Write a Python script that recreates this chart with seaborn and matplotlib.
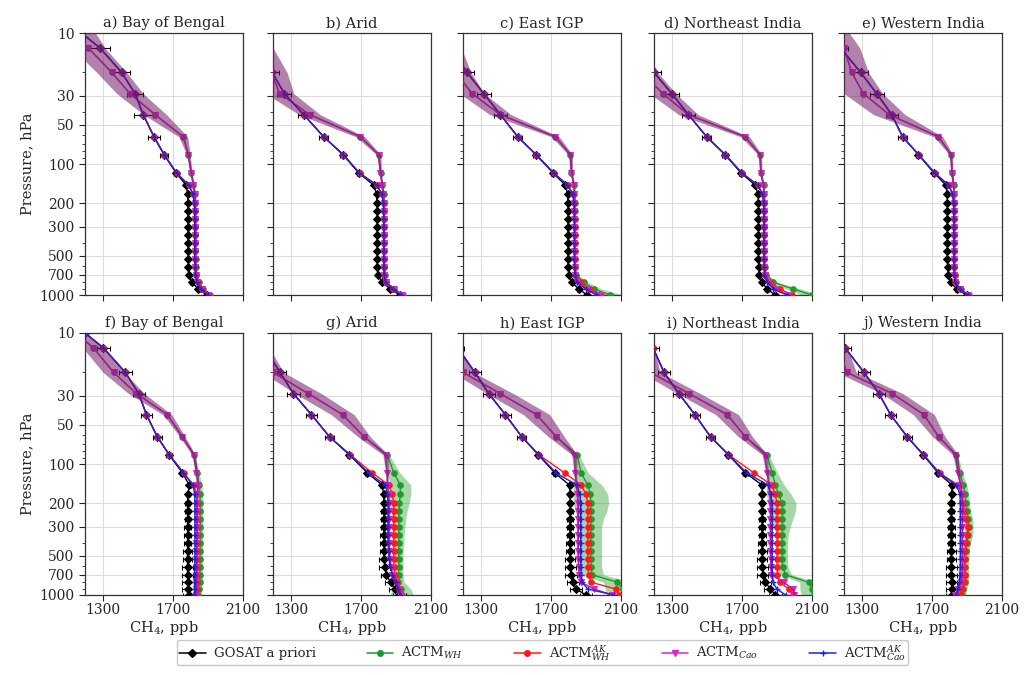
import matplotlib
matplotlib.use("Agg")
import matplotlib.pyplot as plt
from matplotlib.lines import Line2D
from matplotlib.ticker import FixedLocator, FixedFormatter, LogLocator, NullFormatter
import numpy as np
import pandas as pd
import seaborn as sns

PANEL_TITLES = ["a) Bay of Bengal", "b) Arid", "c) East IGP", "d) Northeast India", "e) Western India",
                "f) Bay of Bengal", "g) Arid", "h) East IGP", "i) Northeast India", "j) Western India"]

PRESSURE = [10, 13, 20, 29, 42, 62, 85, 117, 145, 170, 200, 230, 265, 305, 350, 400, 460, 530, 610, 700, 800, 900, 1000]

APRIORI = [
    [1180,1285,1409,1485,1532,1593,1650,1719,1776,1785,1786,1786,1787,1787,1787,1787,1787,1788,1788,1790,1808,1846,1893],
    [1080,1120,1195,1265,1375,1489,1599,1688,1774,1790,1792,1793,1793,1793,1793,1793,1793,1793,1794,1796,1821,1869,1922],
    [1080,1130,1223,1318,1413,1512,1616,1713,1783,1796,1798,1798,1798,1798,1798,1798,1798,1798,1799,1802,1821,1859,1907],
    [1100,1150,1200,1301,1396,1500,1605,1696,1776,1792,1795,1795,1795,1795,1795,1795,1795,1795,1796,1800,1815,1845,1890],
    [1120,1180,1295,1386,1472,1534,1624,1713,1781,1787,1789,1789,1789,1789,1789,1789,1789,1789,1790,1793,1808,1842,1899],
    [1200,1305,1430,1506,1550,1612,1679,1755,1794,1786,1784,1784,1784,1784,1784,1784,1784,1784,1784,1784,1786,1788,1790],
    [1100,1150,1241,1316,1419,1522,1635,1738,1822,1830,1832,1832,1832,1832,1832,1832,1832,1833,1836,1845,1870,1895,1920],
    [1120,1170,1268,1347,1441,1535,1629,1723,1807,1810,1810,1810,1810,1810,1810,1810,1810,1810,1812,1815,1825,1845,1900],
    [1150,1195,1257,1342,1433,1522,1623,1721,1816,1816,1816,1816,1816,1816,1816,1816,1816,1816,1817,1820,1835,1863,1892],
    [1150,1206,1314,1399,1465,1560,1651,1736,1816,1813,1812,1812,1812,1812,1812,1812,1812,1812,1812,1812,1813,1814,1816],
]

ACTM_WH = [
    [1150,1219,1352,1456,1599,1760,1789,1805,1818,1826,1828,1829,1829,1829,1829,1829,1829,1830,1831,1835,1847,1875,1912],
    [1040,1100,1190,1238,1409,1698,1802,1813,1822,1830,1832,1832,1832,1832,1832,1832,1832,1833,1834,1837,1846,1892,1940],
    [1050,1090,1160,1251,1413,1726,1812,1818,1832,1835,1836,1836,1836,1836,1836,1836,1836,1836,1838,1845,1888,1945,2040],
    [1000,1050,1130,1250,1396,1719,1804,1809,1824,1827,1828,1828,1828,1828,1828,1828,1828,1828,1830,1840,1880,1994,2100],
    [1150,1200,1244,1310,1458,1738,1810,1815,1824,1827,1828,1828,1828,1828,1828,1828,1828,1828,1829,1831,1836,1864,1912],
    [1150,1248,1363,1493,1669,1755,1822,1840,1850,1855,1856,1857,1857,1857,1857,1856,1856,1855,1855,1854,1853,1850,1845],
    [1080,1130,1200,1401,1597,1719,1851,1888,1926,1925,1920,1918,1916,1916,1916,1916,1916,1916,1916,1915,1912,1930,1935],
    [1080,1130,1200,1412,1619,1732,1850,1873,1911,1925,1929,1929,1929,1929,1929,1929,1929,1929,1930,1935,2080,2110,2120],
    [1100,1150,1180,1399,1617,1721,1844,1873,1892,1910,1930,1930,1930,1930,1930,1930,1930,1930,1932,1949,2081,2100,2110],
    [1100,1170,1215,1475,1655,1740,1840,1860,1880,1890,1895,1900,1908,1911,1908,1900,1895,1892,1890,1892,1890,1880,1873],
]

ACTM_WH_AK = [
    [1180,1285,1409,1485,1532,1593,1652,1722,1792,1817,1824,1826,1827,1827,1827,1827,1827,1827,1828,1831,1842,1866,1906],
    [1080,1120,1195,1265,1375,1489,1601,1693,1792,1822,1830,1831,1832,1832,1832,1832,1832,1832,1833,1835,1844,1886,1935],
    [1080,1130,1223,1318,1413,1512,1618,1717,1797,1827,1834,1835,1836,1836,1836,1836,1836,1836,1837,1840,1870,1925,1985],
    [1100,1150,1200,1301,1396,1500,1607,1701,1792,1820,1826,1827,1828,1828,1828,1828,1828,1828,1829,1835,1860,1920,1985],
    [1120,1180,1295,1386,1472,1534,1626,1717,1797,1820,1826,1827,1828,1828,1828,1828,1828,1828,1829,1830,1835,1861,1909],
    [1200,1305,1430,1506,1550,1612,1681,1762,1820,1835,1838,1839,1839,1839,1839,1839,1839,1839,1838,1838,1837,1836,1835],
    [1100,1150,1241,1316,1419,1522,1640,1766,1860,1880,1888,1888,1888,1888,1888,1888,1888,1888,1890,1895,1905,1920,1930],
    [1120,1170,1268,1347,1441,1535,1632,1779,1873,1900,1911,1911,1911,1911,1911,1911,1911,1911,1912,1915,1930,2070,2090],
    [1150,1195,1257,1342,1433,1522,1625,1769,1873,1890,1901,1901,1901,1901,1901,1901,1901,1901,1901,1903,1915,1968,1990],
    [1150,1206,1314,1399,1465,1560,1653,1745,1850,1870,1880,1885,1895,1905,1900,1895,1890,1888,1886,1888,1885,1870,1860],
]

ACTM_CAO = [
    [1150,1219,1352,1456,1599,1760,1789,1804,1817,1825,1827,1828,1828,1828,1828,1828,1828,1828,1829,1832,1840,1865,1903],
    [1040,1100,1190,1238,1409,1698,1802,1812,1821,1829,1831,1831,1831,1831,1831,1831,1831,1832,1833,1835,1842,1888,1935],
    [1050,1090,1160,1251,1413,1726,1812,1817,1831,1834,1835,1835,1835,1835,1835,1835,1835,1835,1836,1838,1850,1907,1983],
    [1000,1050,1130,1250,1396,1719,1804,1808,1823,1826,1827,1827,1827,1827,1827,1827,1827,1827,1828,1830,1852,1890,1956],
    [1150,1200,1244,1310,1458,1738,1810,1814,1823,1826,1827,1827,1827,1827,1827,1827,1827,1827,1828,1829,1833,1861,1909],
    [1150,1248,1363,1493,1669,1755,1819,1835,1842,1838,1836,1836,1836,1836,1836,1835,1835,1835,1834,1834,1833,1833,1833],
    [1080,1130,1200,1401,1597,1719,1841,1850,1851,1858,1860,1860,1860,1860,1860,1860,1862,1865,1870,1880,1900,1915,1926],
    [1080,1130,1200,1412,1619,1732,1835,1840,1845,1852,1854,1854,1854,1854,1854,1854,1855,1856,1858,1862,1873,1948,2050],
    [1100,1150,1180,1399,1617,1721,1831,1845,1854,1860,1863,1863,1863,1863,1863,1863,1863,1864,1866,1868,1940,1990,2000],
    [1100,1170,1215,1475,1655,1740,1835,1850,1863,1870,1873,1873,1873,1873,1873,1873,1873,1873,1872,1870,1866,1850,1835],
]

ACTM_CAO_AK = [
    [1180,1285,1409,1485,1532,1593,1652,1722,1790,1815,1822,1824,1825,1825,1825,1825,1825,1825,1826,1828,1838,1860,1900],
    [1080,1120,1195,1265,1375,1489,1601,1692,1790,1820,1828,1829,1830,1830,1830,1830,1830,1830,1831,1833,1840,1882,1930],
    [1080,1130,1223,1318,1413,1512,1618,1716,1795,1825,1832,1833,1834,1834,1834,1834,1834,1834,1835,1837,1848,1900,1960],
    [1100,1150,1200,1301,1396,1500,1607,1700,1790,1818,1824,1825,1826,1826,1826,1826,1826,1826,1827,1829,1845,1880,1960],
    [1120,1180,1295,1386,1472,1534,1626,1716,1795,1818,1824,1825,1826,1826,1826,1826,1826,1826,1827,1828,1832,1858,1905],
    [1200,1305,1430,1506,1550,1612,1680,1760,1815,1825,1826,1826,1826,1826,1826,1826,1826,1826,1825,1825,1824,1824,1823],
    [1100,1150,1241,1316,1419,1522,1638,1745,1840,1852,1855,1855,1855,1855,1855,1856,1858,1862,1868,1880,1898,1912,1925],
    [1120,1170,1268,1347,1441,1535,1632,1730,1850,1865,1870,1870,1870,1870,1870,1870,1870,1870,1871,1873,1880,1910,2060],
    [1150,1195,1257,1342,1433,1522,1625,1728,1850,1865,1873,1873,1873,1873,1873,1873,1873,1873,1873,1874,1878,1900,1950],
    [1150,1206,1314,1399,1465,1560,1653,1740,1840,1860,1863,1863,1863,1863,1863,1863,1863,1863,1862,1860,1857,1848,1840],
]

CAO_SPREAD = [
    [110,95,85,75,65,25,10,6,5,5,5,5,5,5,5,5,5,5,5,5,5,6,8],
    [100,100,90,80,60,25,12,6,5,5,5,5,5,5,5,5,5,5,5,5,5,6,8],
    [110,100,85,70,60,22,12,6,5,5,5,5,5,5,5,5,5,5,5,5,5,6,8],
    [100,100,90,75,55,25,10,6,5,5,5,5,5,5,5,5,5,5,5,5,5,6,8],
    [80,90,95,110,90,25,10,6,5,5,5,5,5,5,5,5,5,5,5,5,5,6,8],
    [40,60,60,45,25,15,10,6,5,5,5,5,5,5,5,5,5,5,5,5,5,6,8],
    [40,50,60,75,65,35,15,8,5,5,5,5,5,5,5,5,5,5,5,5,5,6,8],
    [40,50,60,75,75,45,15,8,5,5,5,5,5,5,5,5,5,5,5,5,5,6,8],
    [40,50,55,65,65,40,15,8,5,5,5,5,5,5,5,5,5,5,5,5,5,6,8],
    [40,50,55,60,60,35,15,8,5,5,5,5,5,5,5,5,5,5,5,5,5,6,8],
]

WH_SPREAD = [
    [0,0,0,0,0,0,3,4,5,5,5,5,5,5,5,5,5,5,5,5,6,8,10],
    [0,0,0,0,0,0,3,4,5,5,5,5,5,5,5,5,5,5,5,5,6,8,10],
    [0,0,0,0,0,0,3,4,5,5,5,5,5,5,5,5,5,5,6,10,25,45,70],
    [0,0,0,0,0,0,3,4,5,5,5,5,5,5,5,5,5,5,6,10,25,40,60],
    [0,0,0,0,0,0,3,4,5,5,5,5,5,5,5,5,5,5,5,5,6,8,10],
    [0,0,0,0,0,0,5,10,15,15,15,15,15,15,15,15,15,15,15,15,15,15,15],
    [0,0,0,0,0,0,10,35,60,60,55,45,40,35,30,30,25,25,25,25,35,55,65],
    [0,0,0,0,0,0,10,40,80,100,100,90,70,60,60,60,60,60,60,65,80,100,100],
    [0,0,0,0,0,0,10,30,50,70,80,75,60,45,35,30,30,30,30,35,50,70,70],
    [0,0,0,0,0,0,8,15,20,20,20,20,25,25,25,20,20,20,20,20,20,20,20],
]

APRIORI_ERR = [
    [0,60,45,45,55,35,20,12,8,6,6,6,6,6,6,6,6,6,6,6,8,10,10],
    [0,40,40,40,35,25,15,10,6,5,5,5,5,5,5,5,5,5,5,5,8,10,10],
    [0,40,40,40,35,25,15,10,6,5,5,5,5,5,5,5,5,5,5,5,8,10,10],
    [0,40,40,40,35,25,15,10,6,5,5,5,5,5,5,5,5,5,5,5,8,10,10],
    [0,40,40,40,35,25,15,10,6,5,5,5,5,5,5,5,5,5,5,5,8,10,10],
    [0,35,35,35,30,25,15,12,10,10,12,14,16,18,20,22,25,28,30,32,33,33,33],
    [0,35,35,35,30,25,15,12,10,10,12,14,16,18,20,22,25,28,30,32,33,35,35],
    [0,35,35,35,30,25,15,12,10,10,12,14,16,18,20,22,25,28,30,32,33,35,35],
    [0,35,35,35,30,25,15,12,10,10,12,14,16,18,20,22,25,28,30,32,33,35,35],
    [0,35,35,35,30,25,15,12,10,10,12,14,16,18,20,22,25,28,30,32,33,35,35],
]

Y_TICKS = [10, 30, 50, 100, 200, 300, 500, 700, 1000]
X_TICKS = [1300, 1700, 2100]

sns.set_theme(style="ticks")
plt.rcParams["font.family"] = ["DejaVu Serif"]
plt.rcParams["mathtext.fontset"] = "dejavuserif"

C_APR, C_WH, C_WHAK, C_CAO, C_CAOAK = "black", "#1f9a2e", "#ff1a1a", "#e61ecf", "#2020e0"

fig = plt.figure(figsize=(10.35, 6.75), dpi=100)
W, H = 1035.0, 675.0
lefts = [85, 273, 463, 654, 844]
bottoms = [295, 595]

for i in range(10):
    r, c = divmod(i, 5)
    ax = fig.add_axes([lefts[c] / W, 1 - bottoms[r] / H, 158 / W, 262 / H])
    P = np.array(PRESSURE, dtype=float)
    df = pd.DataFrame({
        "p": P,
        "apr": APRIORI[i], "wh": ACTM_WH[i], "whak": ACTM_WH_AK[i],
        "cao": ACTM_CAO[i], "caoak": ACTM_CAO_AK[i],
    })
    wh = np.array(ACTM_WH[i], float); whs = np.array(WH_SPREAD[i], float)
    cao = np.array(ACTM_CAO[i], float); caos = np.array(CAO_SPREAD[i], float)

    ax.fill_betweenx(P, wh - whs, wh + whs, color="#2ca02c", alpha=0.42, lw=0, zorder=1)
    ax.errorbar(APRIORI[i], P, xerr=APRIORI_ERR[i], fmt="none", ecolor="black",
                elinewidth=0.8, capsize=1.8, capthick=0.8, zorder=2)

    common = dict(sort=False, orient="y", estimator=None, ax=ax, legend=False)
    sns.lineplot(data=df, x="apr", y="p", color=C_APR, marker="D", markersize=4.5,
                 markeredgecolor=C_APR, lw=1.0, zorder=3, **common)
    sns.lineplot(data=df, x="wh", y="p", color=C_WH, marker="o", markersize=4,
                 markeredgecolor=C_WH, lw=1.0, zorder=3, **common)
    sns.lineplot(data=df, x="whak", y="p", color=C_WHAK, marker="o", markersize=4,
                 markeredgecolor=C_WHAK, lw=1.0, zorder=4, **common)
    sns.lineplot(data=df, x="cao", y="p", color=C_CAO, marker="v", markersize=4.5,
                 markeredgecolor=C_CAO, lw=1.0, zorder=4, **common)
    sns.lineplot(data=df, x="caoak", y="p", color=C_CAOAK, marker="+", markersize=5,
                 markeredgecolor=C_CAOAK, markeredgewidth=1.0, lw=1.0, zorder=5, **common)

    ax.fill_betweenx(P, cao - caos, cao + caos, color="#741a69", alpha=0.55, lw=0, zorder=6)

    ax.set_yscale("log")
    ax.set_ylim(1000, 10)
    ax.set_xlim(1200, 2100)
    ax.yaxis.set_major_locator(FixedLocator(Y_TICKS))
    ax.yaxis.set_major_formatter(FixedFormatter([str(t) for t in Y_TICKS]))
    ax.yaxis.set_minor_locator(LogLocator(base=10, subs=np.arange(2, 10)))
    ax.yaxis.set_minor_formatter(NullFormatter())
    ax.xaxis.set_major_locator(FixedLocator(X_TICKS))
    ax.grid(True, which="major", color="#dcdcdc", lw=0.8, zorder=0)
    ax.set_axisbelow(True)
    ax.tick_params(axis="both", which="major", labelsize=10, length=4, width=0.8)
    ax.tick_params(axis="x", which="major", pad=2)
    ax.tick_params(axis="y", which="minor", length=2, width=0.6)
    for s in ax.spines.values():
        s.set_linewidth(0.9)
        s.set_color("#333333")
    ax.set_title(PANEL_TITLES[i], fontsize=10.5, pad=4)
    ax.set_ylabel("")
    ax.set_xlabel("")
    if c == 0:
        ax.set_ylabel("Pressure, hPa", fontsize=10.5)
    else:
        ax.tick_params(axis="y", labelleft=False)
    if r == 0:
        ax.tick_params(axis="x", labelbottom=False)
    else:
        ax.set_xlabel("CH$_4$, ppb", fontsize=10.5, labelpad=1)

handles = [
    Line2D([], [], color=C_APR, marker="D", markersize=4.5, lw=1.1),
    Line2D([], [], color=C_WH, marker="o", markersize=4, lw=1.1),
    Line2D([], [], color=C_WHAK, marker="o", markersize=4, lw=1.1),
    Line2D([], [], color=C_CAO, marker="v", markersize=4.5, lw=1.1),
    Line2D([], [], color=C_CAOAK, marker="+", markersize=5, lw=1.1),
]
labels = ["GOSAT a priori", "ACTM$_{WH}$", "ACTM$_{WH}^{AK}$", "ACTM$_{Cao}$", "ACTM$_{Cao}^{AK}$"]
fig.legend(handles, labels, loc="lower left", bbox_to_anchor=(170 / W, 3 / H, 745 / W, 24 / H),
           mode="expand", ncol=5, fontsize=9.5, frameon=True, edgecolor="#bbbbbb",
           handlelength=2.0, borderpad=0.2, handletextpad=0.6)

fig.savefig("out.png", dpi=100)
